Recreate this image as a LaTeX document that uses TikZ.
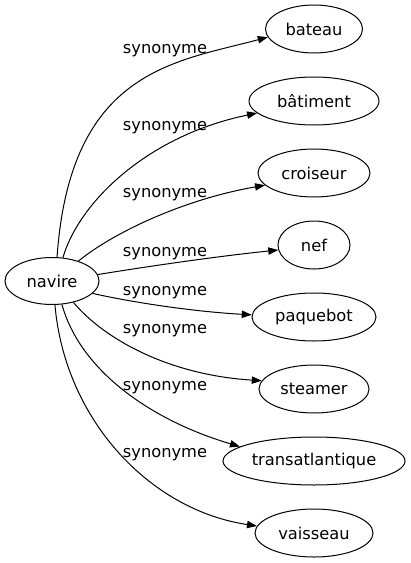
\documentclass[tikz,border=0pt]{standalone}
\usepackage{fontspec}
\setmainfont{DejaVu Sans}
\usetikzlibrary{shapes.geometric,arrows.meta}
\begin{document}
\begin{tikzpicture}[x=0.75pt,y=-0.75pt,
  word/.style={ellipse,draw,line width=0.75pt,inner sep=0pt,minimum height=36pt,font=\fontsize{12.2}{14}\selectfont},
  rel/.style={font=\fontsize{12.2}{14}\selectfont,inner sep=0pt,anchor=base},
  link/.style={line width=0.75pt,-{Triangle[length=7.5pt,width=5.5pt]}}]
\useasboundingbox (0,0) rectangle (410,563);
\node[word,minimum width=70.5pt,minimum height=35.25pt] (navire) at (52,281) {navire};
\node[word,minimum width=72.75pt] (bateau) at (314,29) {bateau};
\node[word,minimum width=97.5pt] (batiment) at (314,101) {bâtiment};
\node[word,minimum width=84pt] (croiseur) at (314,173) {croiseur};
\node[word,minimum width=54pt] (nef) at (314,245) {nef};
\node[word,minimum width=93pt] (paquebot) at (314,317) {paquebot};
\node[word,minimum width=82.5pt] (steamer) at (314,389) {steamer};
\node[word,minimum width=136.5pt] (transat) at (314,461) {transatlantique};
\node[word,minimum width=88.5pt] (vaisseau) at (314,533) {vaisseau};
\node[rel] (l1) at (165,54) {synonyme};
\node[rel] (l2) at (165,131) {synonyme};
\node[rel] (l3) at (165,197) {synonyme};
\node[rel] (l4) at (165,256) {synonyme};
\node[rel] (l5) at (165,295) {synonyme};
\node[rel] (l6) at (165,333) {synonyme};
\node[rel] (l7) at (165,390) {synonyme};
\node[rel] (l8) at (165,457) {synonyme};
\draw[link] (navire.78) .. controls (70,70) and (175,62) .. (bateau.190.8);
\draw[link] (navire.65) .. controls (80,200) and (150,135) .. (batiment.192);
\draw[link] (navire.37) .. controls (110,235) and (180,200) .. (croiseur.194.5);
\draw[link] (navire.8.5) .. controls (150,266) and (220,256) .. (nef.188);
\draw[link] (navire.-17) .. controls (140,304) and (200,312) .. (paquebot.178);
\draw[link] (navire.-45) .. controls (105,340) and (170,375) .. (steamer.171);
\draw[link] (navire.-67) .. controls (80,370) and (150,420) .. (transat.169);
\draw[link] (navire.-83) .. controls (65,420) and (150,510) .. (vaisseau.173);
\end{tikzpicture}
\end{document}
